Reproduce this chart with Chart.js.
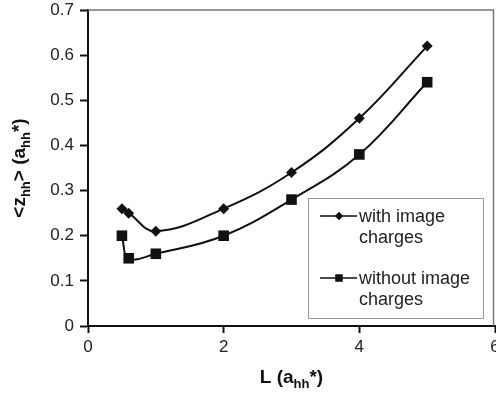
<!DOCTYPE html>
<html>
<head>
<meta charset="utf-8">
<script src="https://cdn.jsdelivr.net/npm/chart.js@4/dist/chart.umd.min.js"></script>
<style>
  body { margin: 0; background: #fff; }
  canvas { display: block; }
</style>
</head>
<body>
<canvas id="chart" width="496" height="393"></canvas>
<script>
// values
const lengths = [0.5, 0.6, 1, 2, 3, 4, 5];
const withImage = [0.26, 0.25, 0.21, 0.26, 0.34, 0.46, 0.62];
const withoutImage = [0.20, 0.15, 0.16, 0.20, 0.28, 0.38, 0.54];
const xTicks = ['0', '2', '4', '6'];
const yTicks = ['0', '0.1', '0.2', '0.3', '0.4', '0.5', '0.6', '0.7'];
const seriesNames = [['with image', 'charges'], ['without image', 'charges']];

const FONT = '"Liberation Sans", Arial, sans-serif';

function toPoints(xs, ys) {
    return xs.map((x, i) => ({ x: x, y: ys[i] }));
}

// draws text with subscripts, parts = [[text, isSub], ...], centred on x
function drawRich(ctx, parts, x, y) {
    const big = 'bold 19px ' + FONT;
    const small = 'bold 13px ' + FONT;
    let total = 0;
    parts.forEach(p => {
        ctx.font = p[1] ? small : big;
        total += ctx.measureText(p[0]).width;
    });
    let cx = x - total / 2;
    ctx.textAlign = 'left';
    ctx.textBaseline = 'alphabetic';
    parts.forEach(p => {
        ctx.font = p[1] ? small : big;
        ctx.fillText(p[0], cx, p[1] ? y + 5 : y);
        cx += ctx.measureText(p[0]).width;
    });
}

const extras = {
    id: 'extras',
    beforeDatasetsDraw(chart) {
        const ctx = chart.ctx;
        const a = chart.chartArea;
        ctx.save();
        // frame on top and right
        ctx.strokeStyle = '#777';
        ctx.lineWidth = 1.5;
        ctx.beginPath();
        ctx.moveTo(a.left, a.top);
        ctx.lineTo(a.right - 1.5, a.top);
        ctx.lineTo(a.right - 1.5, a.bottom);
        ctx.stroke();
        ctx.restore();
    },
    afterDraw(chart) {
        const ctx = chart.ctx;
        const a = chart.chartArea;
        ctx.save();
        ctx.fillStyle = '#111';
        // axis titles
        drawRich(ctx, [['L (a', false], ['hh', true], ['*)', false]], (a.left + a.right) / 2, 383);
        ctx.save();
        ctx.translate(25, (a.top + a.bottom) / 2);
        ctx.rotate(-Math.PI / 2);
        drawRich(ctx, [['<z', false], ['hh', true], ['> (a', false], ['hh', true], ['*)', false]], 0, 0);
        ctx.restore();

        // legend box
        const bx = 308, by = 198, bw = 175, bh = 120;
        ctx.fillStyle = '#fff';
        ctx.fillRect(bx, by, bw, bh);
        ctx.strokeStyle = '#999';
        ctx.lineWidth = 1;
        ctx.strokeRect(bx + 0.5, by + 0.5, bw, bh);

        const rows = [216, 278];
        chart.data.datasets.forEach((ds, i) => {
            const y = rows[i];
            ctx.strokeStyle = '#111';
            ctx.lineWidth = 1.5;
            ctx.beginPath();
            ctx.moveTo(320, y);
            ctx.lineTo(357, y);
            ctx.stroke();
            ctx.fillStyle = '#111';
            Chart.helpers.drawPoint(ctx, {
                pointStyle: ds.pointStyle,
                radius: ds.pointStyle === 'rect' ? 5 : 4,
                rotation: 0,
                borderWidth: 0
            }, 339, y);
            ctx.fill();
            ctx.font = '18px ' + FONT;
            ctx.textAlign = 'left';
            ctx.textBaseline = 'middle';
            ctx.fillStyle = '#222';
            ctx.fillText(seriesNames[i][0], 359, y + 1);
            ctx.fillText(seriesNames[i][1], 359, y + 22);
        });
        ctx.restore();
    }
};

new Chart(document.getElementById('chart').getContext('2d'), {
    type: 'scatter',
    data: {
        datasets: [{
            label: 'with image charges',
            data: toPoints(lengths, withImage),
            showLine: true,
            tension: 0.4,
            borderColor: '#111',
            borderWidth: 2,
            pointStyle: 'rectRot',
            pointRadius: 5.5,
            pointBackgroundColor: '#111',
            pointBorderColor: '#111',
            pointBorderWidth: 0
        }, {
            label: 'without image charges',
            data: toPoints(lengths, withoutImage),
            showLine: true,
            tension: 0.4,
            borderColor: '#111',
            borderWidth: 2,
            pointStyle: 'rect',
            pointRadius: 7.5,
            pointBackgroundColor: '#111',
            pointBorderColor: '#111',
            pointBorderWidth: 0
        }]
    },
    options: {
        responsive: false,
        animation: false,
        layout: { autoPadding: false, padding: { top: 10, right: 1, left: 0, bottom: 0 } },
        plugins: {
            legend: { display: false },
            tooltip: { enabled: false }
        },
        scales: {
            x: {
                type: 'linear',
                min: 0,
                max: 6,
                afterFit(scale) {
                    scale.height = 67;
                    scale.paddingLeft = 0;
                    scale.paddingRight = 0;
                },
                afterBuildTicks(scale) {
                    scale.ticks = xTicks.map(t => ({ value: Number(t) }));
                },
                ticks: {
                    callback: (v) => xTicks.find(t => Number(t) === v),
                    color: '#222',
                    font: { family: FONT, size: 17 },
                    padding: 4,
                    maxRotation: 0
                },
                grid: {
                    drawOnChartArea: false,
                    drawTicks: true,
                    tickLength: 7,
                    tickWidth: 2,
                    tickColor: '#111'
                },
                border: { color: '#111', width: 2 }
            },
            y: {
                min: 0,
                max: 0.7,
                afterFit(scale) {
                    scale.width = 88;
                    scale.paddingTop = 0;
                    scale.paddingBottom = 0;
                },
                afterBuildTicks(scale) {
                    scale.ticks = yTicks.map(t => ({ value: Number(t) }));
                },
                ticks: {
                    callback: (v) => yTicks.find(t => Math.abs(Number(t) - v) < 1e-9),
                    color: '#222',
                    font: { family: FONT, size: 17 },
                    padding: 6
                },
                grid: {
                    drawOnChartArea: false,
                    drawTicks: true,
                    tickLength: 8,
                    tickWidth: 2,
                    tickColor: '#111'
                },
                border: { color: '#111', width: 2 }
            }
        }
    },
    plugins: [extras]
});
</script>
</body>
</html>
